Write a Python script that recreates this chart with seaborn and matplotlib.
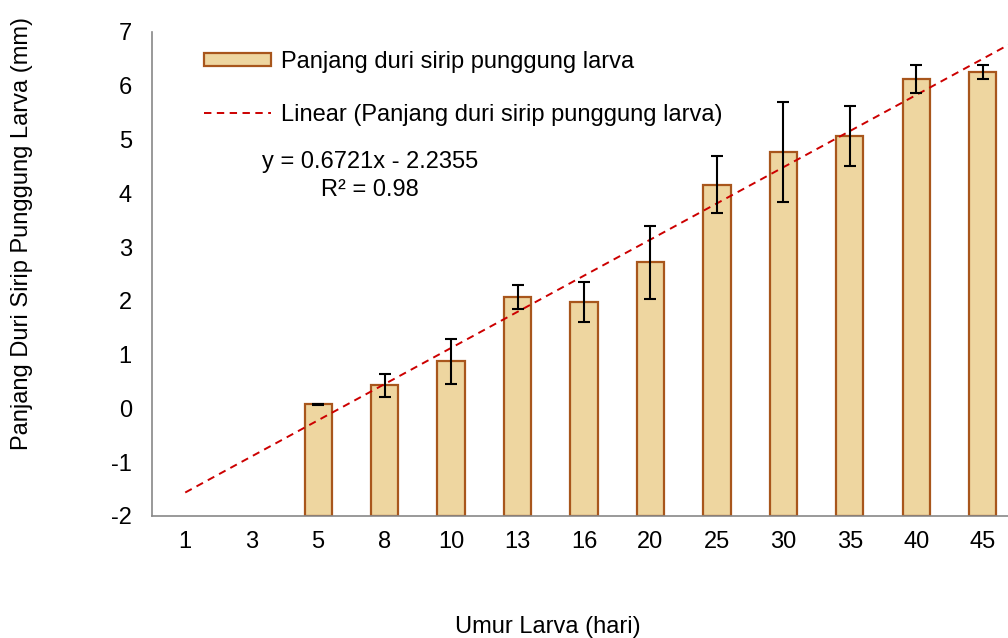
import numpy as np
import pandas as pd
import matplotlib
matplotlib.use("Agg")
import matplotlib.pyplot as plt
import seaborn as sns
from matplotlib.patches import Patch
from matplotlib.lines import Line2D

categories = ["1", "3", "5", "8", "10", "13", "16", "20", "25", "30", "35", "40", "45"]
values = [np.nan, np.nan, 0.08, 0.43, 0.88, 2.07, 1.98, 2.72, 4.16, 4.77, 5.07, 6.13, 6.26]
errors = [np.nan, np.nan, 0.01, 0.21, 0.42, 0.23, 0.37, 0.68, 0.53, 0.93, 0.56, 0.26, 0.13]
slope, intercept = 0.6721, -2.2355
r2 = 0.98
baseline = -2.0

sns.set_theme(style="white")
plt.rcParams['font.family'] = ['Liberation Sans', 'DejaVu Sans']
plt.rcParams['axes.unicode_minus'] = False
plt.rcParams['text.color'] = 'black'
FS = 17

df = pd.DataFrame({"umur": categories, "panjang": values, "err": errors})
df_bar = df.dropna().copy()
df_bar["h"] = df_bar["panjang"] - baseline

fig = plt.figure(figsize=(10.08, 6.38), dpi=100)
ax = fig.add_axes([152/1008, 1-516/638, 864/1008, (516-32)/638])

sns.barplot(data=df_bar, x="umur", y="h", order=categories, ax=ax,
            color="#EED6A0", edgecolor="#A8561C", linewidth=1.6,
            width=0.41, bottom=baseline, saturation=1, errorbar=None)

pos = np.array([categories.index(c) for c in df_bar["umur"]])
ax.errorbar(pos, df_bar["panjang"], yerr=df_bar["err"], fmt="none",
            ecolor="black", elinewidth=1.5, capsize=4.5, capthick=1.5, zorder=5)

xs = np.array([0, len(categories) - 0.5])
ax.plot(xs, slope * (xs + 1) + intercept, color="#CC0000", lw=1.4,
        linestyle=(0, (3.8, 2.8)), zorder=4)

ax.set_xlim(-0.5, len(categories) - 0.5)
ax.set_ylim(-2, 7)
ax.set_yticks(range(-2, 8))
ax.set_xticks(np.arange(len(categories)))
ax.set_xticklabels(categories)
ax.set_xticks(np.arange(len(categories) + 1) - 0.5, minor=True)
ax.tick_params(axis="x", which="major", length=0, labelsize=FS, pad=11, labelcolor="black")
ax.tick_params(axis="x", which="minor", length=4.5, width=1, color="#888888", direction="out")
ax.tick_params(axis="y", length=4.5, width=1, color="#888888", direction="out",
               labelsize=FS, pad=10, labelcolor="black")
for s in ["top", "right"]:
    ax.spines[s].set_visible(False)
for s in ["left", "bottom"]:
    ax.spines[s].set_color("#888888")
    ax.spines[s].set_linewidth(1.2)
ax.set_xlabel("")
ax.set_ylabel("")

fig.text(22/1008, 1-233/638, "Panjang Duri Sirip Punggung Larva (mm)", rotation=90,
         ha="center", va="center", fontsize=FS, color="black")
fig.text(548/1008, 1-627/638, "Umur Larva (hari)", ha="center", va="center",
         fontsize=FS, color="black")

handles = [Patch(facecolor="#EED6A0", edgecolor="#A8561C", linewidth=1.6),
           Line2D([0], [0], color="#CC0000", lw=1.4, linestyle=(0, (3.8, 2.8)))]
labels = ["Panjang duri sirip punggung larva", "Linear (Panjang duri sirip punggung larva)"]
leg = fig.legend(handles, labels, loc="upper left", bbox_to_anchor=(204/1008, 1-51/638),
                 frameon=False, fontsize=FS, handlelength=2.84, handleheight=0.5,
                 handletextpad=0.42, labelspacing=1.3, borderpad=0, borderaxespad=0)
for t in leg.get_texts():
    t.set_color("black")

fig.text(370/1008, 1-162/638, "y = 0.6721x - 2.2355", ha="center", va="center",
         fontsize=FS, color="black")
fig.text(370/1008, 1-190/638, "R² = %.2f" % r2, ha="center", va="center",
         fontsize=FS, color="black")

fig.savefig("out.png", dpi=100)
